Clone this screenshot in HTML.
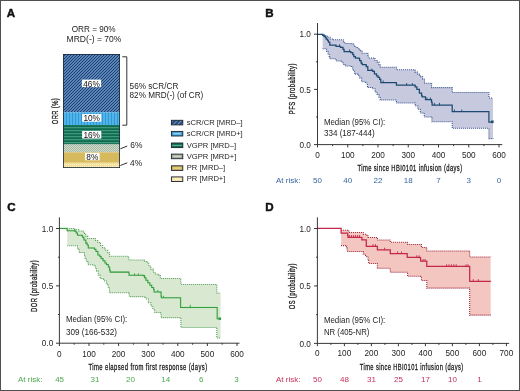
<!DOCTYPE html>
<html><head><meta charset="utf-8">
<style>
html,body{margin:0;padding:0;background:#fff;}
body{width:520px;height:391px;overflow:hidden;position:relative;}
svg{position:absolute;left:0;top:0;display:block;filter:blur(0.45px);}
text{font-family:"Liberation Sans",sans-serif;}
.t{stroke:#1a1a1a;stroke-width:0.3px;letter-spacing:0.6px;}
</style></head>
<body>
<svg width="520" height="391" viewBox="0 0 520 391">
<defs>
  <pattern id="pA" width="3" height="3" patternUnits="userSpaceOnUse">
    <rect width="3" height="3" fill="#5a84b8"/>
    <rect x="2" y="0" width="1" height="1" fill="#1d416e"/>
    <rect x="1" y="1" width="1" height="1" fill="#1d416e"/>
    <rect x="0" y="2" width="1" height="1" fill="#1d416e"/>
  </pattern>
  <pattern id="pAL" width="3" height="3" patternUnits="userSpaceOnUse" patternTransform="rotate(45)">
    <rect width="3" height="3" fill="#1f3f6a"/>
    <rect width="1.2" height="3" fill="#6f9acb"/>
  </pattern>
  <pattern id="pB" width="3" height="3" patternUnits="userSpaceOnUse">
    <rect width="3" height="3" fill="#4fb4ea"/>
    <rect width="1" height="3" fill="#3297d2"/>
  </pattern>
  <pattern id="pC" width="3" height="3" patternUnits="userSpaceOnUse">
    <rect width="3" height="3" fill="#0f6a50"/>
    <rect y="1.2" width="3" height="1" fill="#4aa585"/>
  </pattern>
  <pattern id="pD" width="2" height="2" patternUnits="userSpaceOnUse">
    <rect width="2" height="2" fill="#d3ddcd"/>
    <rect width="1" height="1" fill="#a8b7a4"/>
    <rect x="1" y="1" width="1" height="1" fill="#a8b7a4"/>
  </pattern>
  <pattern id="pF" width="2" height="2" patternUnits="userSpaceOnUse">
    <rect width="2" height="2" fill="#f3de97"/>
    <rect width="1" height="1" fill="#fbf2cf"/>
  </pattern>
</defs>

<!-- outer border -->
<rect x="0.5" y="0.5" width="519" height="390" fill="none" stroke="#505050" stroke-width="1"/>

<!-- ================= PANEL A ================= -->
<text class="n" x="6.8" y="16.7" font-size="11.6" font-weight="bold" fill="#111" stroke="#111" stroke-width="0.45">A</text>
<text x="93.65" y="31.9" font-size="8.4" fill="#1e1e1e" text-anchor="middle" textLength="44" lengthAdjust="spacingAndGlyphs">ORR = 90%</text>
<text x="94" y="41.9" font-size="8.4" fill="#1e1e1e" text-anchor="middle" textLength="54.8" lengthAdjust="spacingAndGlyphs">MRD(-) = 70%</text>

<g>
  <rect x="63" y="54" width="57" height="58.3" fill="url(#pA)"/>
  <rect x="63" y="112.3" width="57" height="12.7" fill="url(#pB)"/>
  <rect x="63" y="125" width="57" height="19.5" fill="url(#pC)"/>
  <rect x="63" y="144.5" width="57" height="7.8" fill="url(#pD)"/>
  <rect x="63" y="152.3" width="57" height="10.5" fill="#d7b95e"/>
  <rect x="63" y="162.8" width="57" height="5.2" fill="url(#pF)"/>
  <rect x="63.4" y="54.4" width="56.2" height="113.2" fill="none" stroke="#1b2a3a" stroke-width="0.8"/>
</g>
<g font-size="8.5" fill="#111" text-anchor="middle">
  <rect x="81.9" y="79.6" width="19.2" height="7.5" fill="#fff"/>
  <text x="91.5" y="86.5" textLength="16.6" lengthAdjust="spacingAndGlyphs">46%</text>
  <rect x="82.1" y="114.1" width="19.2" height="7.6" fill="#fff"/>
  <text x="91.7" y="121" textLength="16.6" lengthAdjust="spacingAndGlyphs">10%</text>
  <rect x="82.1" y="131" width="19.2" height="7.6" fill="#fff"/>
  <text x="91.7" y="137.9" textLength="16.6" lengthAdjust="spacingAndGlyphs">16%</text>
  <rect x="85" y="152.9" width="14.6" height="7.4" fill="#fff"/>
  <text x="92.3" y="159.8" textLength="12" lengthAdjust="spacingAndGlyphs">8%</text>
</g>
<text class="n t" transform="translate(58,111.1) rotate(-90)" font-size="8.9" fill="#222" text-anchor="middle" textLength="26.2" lengthAdjust="spacingAndGlyphs">ORR (%)</text>

<path d="M122.3,56.8 H126.8 V125.2 H122.3" fill="none" stroke="#333" stroke-width="1"/>
<text x="129.6" y="88.9" font-size="8.4" fill="#1e1e1e" textLength="48.7" lengthAdjust="spacingAndGlyphs">56% sCR/CR</text>
<text x="129.6" y="98.1" font-size="8.4" fill="#1e1e1e" textLength="73.7" lengthAdjust="spacingAndGlyphs">82% MRD(-) (of CR)</text>
<path d="M120.3,148.8 L127.3,146" stroke="#333" stroke-width="1"/>
<text x="130.3" y="147.7" font-size="8.4" fill="#1e1e1e">6%</text>
<path d="M120.3,165.5 L127.3,162.8" stroke="#333" stroke-width="1"/>
<text x="130.1" y="165.8" font-size="8.4" fill="#1e1e1e">4%</text>

<!-- legend -->
<g stroke="#1a2430" stroke-width="0.9">
  <rect x="171.4" y="120.3" width="11.4" height="4.6" fill="url(#pAL)"/>
  <rect x="171.4" y="131.4" width="11.4" height="4.6" fill="#3c9bd8"/>
  <rect x="171.4" y="143.0" width="11.4" height="4.6" fill="#0f6a50"/>
  <rect x="171.4" y="154.1" width="11.4" height="4.6" fill="#a3ab98"/>
  <rect x="171.4" y="165.8" width="11.4" height="4.6" fill="#cdb35a"/>
  <rect x="171.4" y="176.9" width="11.4" height="4.6" fill="#f1e1a2"/>
</g>
<g>
  <rect x="173.4" y="132.9" width="7.4" height="1.6" fill="#8fd0f4"/>
  <rect x="172.2" y="144.9" width="9.8" height="0.9" fill="#6cbc9c"/>
  <rect x="173.4" y="155.6" width="7.4" height="1.6" fill="#cfd6c9"/>
  <rect x="173.4" y="167.3" width="7.4" height="1.6" fill="#e6d38a"/>
  <rect x="173.4" y="178.4" width="7.4" height="1.6" fill="#faf1cc"/>
</g>
<g font-size="7.6" fill="#1e1e1e">
  <text x="186.8" y="124.8">sCR/CR [MRD–]</text>
  <text x="186.8" y="135.8">sCR/CR [MRD+]</text>
  <text x="186.8" y="147.5">VGPR [MRD–]</text>
  <text x="186.8" y="158.5">VGPR [MRD+]</text>
  <text x="186.8" y="170.2">PR [MRD–]</text>
  <text x="186.8" y="181.3">PR [MRD+]</text>
</g>

<!--KM-->
<g>
<path d="M322.6,34.3 L323.0,34.3 L323.0,34.9 L325.7,34.9 L325.7,36.3 L327.5,36.3 L327.5,37.2 L330.2,37.2 L330.2,39.0 L333.0,39.0 L333.0,39.8 L342.6,39.8 L342.6,39.9 L343.6,39.9 L343.6,41.8 L344.6,41.8 L344.6,43.4 L351.8,43.4 L351.8,43.8 L353.3,43.8 L353.3,45.3 L355.0,45.3 L355.0,47.2 L357.6,47.2 L357.6,48.7 L359.1,48.7 L359.1,49.7 L360.6,49.7 L360.6,50.7 L362.2,50.7 L362.2,53.3 L367.3,53.3 L367.3,53.3 L367.8,53.3 L367.8,55.3 L368.3,55.3 L368.3,57.9 L373.9,57.9 L373.9,57.9 L375.0,57.9 L375.0,60.5 L377.0,60.5 L377.0,62.0 L379.0,62.0 L379.0,64.6 L380.3,64.6 L380.3,67.2 L396.4,67.2 L396.4,67.2 L396.4,67.2 L396.4,69.8 L414.7,69.8 L414.7,70.0 L415.0,70.0 L415.0,72.1 L417.5,72.1 L417.5,74.1 L420.0,74.1 L420.0,76.6 L422.6,76.6 L422.6,79.2 L424.5,79.2 L424.5,83.2 L431.5,83.2 L431.5,83.6 L431.6,83.6 L431.6,87.6 L452.2,87.6 L452.2,87.8 L452.2,87.8 L452.2,92.5 L488.9,92.5 L488.9,92.5 L488.9,92.5 L488.9,97.9 L493.0,97.9 L493.0,97.9 L493.0,138.7 L493.0,138.6 L488.9,138.6 L488.9,128.3 L488.9,128.3 L488.9,128.2 L452.2,128.2 L452.2,122.1 L452.2,122.1 L452.2,121.7 L431.9,121.7 L431.9,117.5 L431.2,117.5 L431.2,116.9 L424.2,116.9 L424.2,113.0 L420.3,113.0 L420.3,109.2 L417.8,109.2 L417.8,106.0 L415.2,106.0 L415.2,103.0 L414.3,103.0 L414.3,102.9 L396.4,102.9 L396.4,100.5 L395.8,100.5 L395.8,100.0 L380.2,100.0 L380.2,97.1 L378.9,97.1 L378.9,94.5 L377.0,94.5 L377.0,92.0 L375.0,92.0 L375.0,88.8 L372.5,88.8 L372.5,87.5 L367.4,87.5 L367.4,83.0 L365.5,83.0 L365.5,81.7 L361.6,81.7 L361.6,77.9 L359.7,77.9 L359.7,75.3 L357.8,75.3 L357.8,74.1 L354.6,74.1 L354.6,70.2 L352.7,70.2 L352.7,66.4 L351.4,66.4 L351.4,65.9 L345.1,65.9 L345.1,64.8 L343.6,64.8 L343.6,62.7 L342.0,62.7 L342.0,61.2 L341.0,61.2 L341.0,60.9 L336.0,60.9 L336.0,58.9 L335.6,58.9 L335.6,58.8 L329.8,58.8 L329.8,56.4 L329.3,56.4 L329.3,53.7 L328.0,53.7 L328.0,51.5 L326.6,51.5 L326.6,48.8 L326.6,48.8 L326.6,48.7 L322.6,48.7 L322.6,34.3 L322.6,34.3 Z" fill="#c7c9df"/>
<path d="M322.6,34.3 H323.0 V34.9 H325.7 V36.3 H327.5 V37.2 H330.2 V39.0 H333.0 V39.8 H342.6 V39.9 H343.6 V41.8 H344.6 V43.4 H351.8 V43.8 H353.3 V45.3 H355.0 V47.2 H357.6 V48.7 H359.1 V49.7 H360.6 V50.7 H362.2 V53.3 H367.3 H367.8 V55.3 H368.3 V57.9 H373.9 H375.0 V60.5 H377.0 V62.0 H379.0 V64.6 H380.3 V67.2 H396.4 V69.8 H414.7 V70.0 H415.0 V72.1 H417.5 V74.1 H420.0 V76.6 H422.6 V79.2 H424.5 V83.2 H431.5 V83.6 H431.6 V87.6 H452.2 V87.8 V92.5 H488.9 V97.9 H493.0" fill="none" stroke="#34508a" stroke-width="1.05" stroke-dasharray="1 1"/>
<path d="M322.6,48.7 H326.6 V48.8 V51.5 H328.0 V53.7 H329.3 V56.4 H329.8 V58.8 H335.6 V58.9 H336.0 V60.9 H341.0 V61.2 H342.0 V62.7 H343.6 V64.8 H345.1 V65.9 H351.4 V66.4 H352.7 V70.2 H354.6 V74.1 H357.8 V75.3 H359.7 V77.9 H361.6 V81.7 H365.5 V83.0 H367.4 V87.5 H372.5 V88.8 H375.0 V92.0 H377.0 V94.5 H378.9 V97.1 H380.2 V100.0 H395.8 V100.5 H396.4 V102.9 H414.3 V103.0 H415.2 V106.0 H417.8 V109.2 H420.3 V113.0 H424.2 V116.9 H431.2 V117.5 H431.9 V121.7 H452.2 V122.1 V128.2 H488.9 V128.3 V138.6 H493.0 V138.7" fill="none" stroke="#34508a" stroke-width="1.05" stroke-dasharray="1 1"/>
<path d="M317.5,34.3 H322.1 H322.6 V35.4 H324.0 V36.4 H325.3 V37.6 H326.2 V39.0 H327.5 V40.3 H328.4 V42.1 H329.8 V45.0 H335.9 V45.1 H336.0 V46.3 H340.0 V46.6 H340.5 V47.4 H343.0 V49.4 H344.1 V51.5 H350.2 V51.7 H350.8 V52.5 H352.8 V54.6 H353.8 V56.6 H355.4 V58.2 H359.1 V58.4 H359.6 V60.5 H361.1 V63.0 H362.2 V64.6 H365.6 V64.8 H366.3 V66.6 H367.8 V70.4 H372.3 V70.7 H372.9 V71.4 H374.4 V73.8 H376.5 V75.8 H378.0 V77.3 H379.6 V79.4 H380.8 V82.7 H396.4 V82.8 V85.2 H414.9 V85.3 H415.2 V86.9 H416.9 V89.4 H419.4 V93.2 H421.6 V95.8 H422.3 V96.8 H425.3 V96.9 H425.5 V99.5 H430.8 V99.6 H431.5 V102.0 H432.1 V105.0 H452.2 V105.1 V111.5 H488.9 V111.7 V122.0 H493.0" fill="none" stroke="#1e4a72" stroke-width="1.25"/>
<path d="M339.5,46.5 V44.3 M349.5,51.7 V49.5 M371.9,70.7 V68.5 M383.2,82.7 V80.5 M406.6,85.3 V83.1 M412.4,85.3 V83.1 M427.0,99.6 V97.4 M430.3,99.6 V97.4 M434.4,105.1 V102.9 M439.5,105.1 V102.9 M454.4,111.7 V109.5 M461.8,111.7 V109.5" fill="none" stroke="#1e4a72" stroke-width="0.9"/>
<rect x="491" y="120.5" width="2.6" height="2.6" fill="#1e4a72"/>
</g>
<g>
<path d="M67.2,228.4 L74.9,228.4 L74.9,229.7 L78.7,229.7 L78.7,231.0 L83.2,231.0 L83.2,232.2 L84.5,232.2 L84.5,234.1 L85.8,234.1 L85.8,236.1 L87.7,236.1 L87.7,238.4 L95.4,238.4 L95.4,238.6 L95.4,238.6 L95.4,240.5 L97.9,240.5 L97.9,242.5 L100.5,242.5 L100.5,245.5 L102.6,245.5 L102.6,247.7 L105.1,247.7 L105.1,250.2 L107.7,250.2 L107.7,252.8 L109.6,252.8 L109.6,256.3 L128.8,256.3 L128.8,256.6 L128.8,256.6 L128.8,260.0 L144.1,260.0 L144.1,260.2 L144.8,260.2 L144.8,261.5 L146.9,261.5 L146.9,262.7 L148.8,262.7 L148.8,265.9 L150.8,265.9 L150.8,269.1 L153.3,269.1 L153.3,272.3 L155.2,272.3 L155.2,274.2 L159.0,274.2 L159.0,275.5 L160.3,275.5 L160.3,278.4 L180.8,278.4 L180.8,278.7 L180.8,278.7 L180.8,284.4 L216.8,284.4 L216.8,284.4 L216.8,284.4 L216.8,293.0 L220.6,293.0 L220.6,293.0 L220.6,338.0 L220.6,338.0 L216.8,338.0 L216.8,327.5 L216.8,327.5 L216.8,327.4 L180.9,327.4 L180.9,317.9 L180.3,317.9 L180.3,317.6 L161.1,317.6 L161.1,312.8 L160.5,312.8 L160.5,312.5 L154.7,312.5 L154.7,309.2 L152.8,309.2 L152.8,306.0 L150.9,306.0 L150.9,302.8 L148.3,302.8 L148.3,299.0 L145.8,299.0 L145.8,296.9 L144.0,296.9 L144.0,296.6 L129.3,296.6 L129.3,293.0 L128.7,293.0 L128.7,292.7 L109.5,292.7 L109.5,287.9 L108.2,287.9 L108.2,284.1 L106.4,284.1 L106.4,280.9 L103.8,280.9 L103.8,278.4 L100.0,278.4 L100.0,275.0 L98.2,275.0 L98.2,271.2 L96.6,271.2 L96.6,268.0 L95.4,268.0 L95.4,265.5 L94.1,265.5 L94.1,264.8 L88.3,264.8 L88.3,261.6 L86.4,261.6 L86.4,258.4 L85.1,258.4 L85.1,255.2 L84.5,255.2 L84.5,252.7 L83.9,252.7 L83.9,252.4 L79.4,252.4 L79.4,248.9 L77.5,248.9 L77.5,245.7 L77.5,245.7 L77.5,245.7 L67.2,245.7 L67.2,228.4 L67.2,228.4 Z" fill="#d9e9d1"/>
<path d="M67.2,228.4 H74.9 V229.7 H78.7 V231.0 H83.2 V232.2 H84.5 V234.1 H85.8 V236.1 H87.7 V238.4 H95.4 V238.6 V240.5 H97.9 V242.5 H100.5 V245.5 H102.6 V247.7 H105.1 V250.2 H107.7 V252.8 H109.6 V256.3 H128.8 V256.6 V260.0 H144.1 V260.2 H144.8 V261.5 H146.9 V262.7 H148.8 V265.9 H150.8 V269.1 H153.3 V272.3 H155.2 V274.2 H159.0 V275.5 H160.3 V278.4 H180.8 V278.7 V284.4 H216.8 V293.0 H220.6" fill="none" stroke="#4f9a55" stroke-width="1.05" stroke-dasharray="1 1"/>
<path d="M67.2,245.7 H77.5 V248.9 H79.4 V252.4 H83.9 V252.7 H84.5 V255.2 H85.1 V258.4 H86.4 V261.6 H88.3 V264.8 H94.1 V265.5 H95.4 V268.0 H96.6 V271.2 H98.2 V275.0 H100.0 V278.4 H103.8 V280.9 H106.4 V284.1 H108.2 V287.9 H109.5 V292.7 H128.7 V293.0 H129.3 V296.6 H144.0 V296.9 H145.8 V299.0 H148.3 V302.8 H150.9 V306.0 H152.8 V309.2 H154.7 V312.5 H160.5 V312.8 H161.1 V317.6 H180.3 V317.9 H180.9 V327.4 H216.8 V327.5 V338.0 H220.6" fill="none" stroke="#4f9a55" stroke-width="1.05" stroke-dasharray="1 1"/>
<path d="M59.4,228.4 H66.8 H67.2 V230.8 H74.6 V231.2 H76.2 V232.9 H77.5 V235.3 H82.0 V235.8 H82.6 V237.3 H83.9 V239.9 H85.8 V243.1 H87.1 V245.0 H88.3 V247.9 H94.1 V248.2 H94.7 V249.5 H96.0 V251.4 H97.9 V255.0 H99.8 V256.5 H101.1 V258.4 H103.0 V260.8 H105.0 V263.0 H106.4 V264.5 H108.3 V266.9 H109.6 V270.1 H110.2 V272.1 H128.5 V272.2 H129.0 V275.3 H143.2 V275.6 H144.6 V277.7 H145.9 V280.2 H147.8 V282.8 H149.8 V285.3 H151.7 V287.5 H153.6 V289.5 H154.1 V291.9 H160.3 V292.1 H161.1 V296.4 H161.4 V297.8 H180.3 V298.0 H180.6 V307.4 H217.2 V307.5 V318.7 H220.6" fill="none" stroke="#b8e6b8" stroke-width="1.6"/>
<path d="M59.4,228.4 H66.8 H67.2 V230.8 H74.6 V231.2 H76.2 V232.9 H77.5 V235.3 H82.0 V235.8 H82.6 V237.3 H83.9 V239.9 H85.8 V243.1 H87.1 V245.0 H88.3 V247.9 H94.1 V248.2 H94.7 V249.5 H96.0 V251.4 H97.9 V255.0 H99.8 V256.5 H101.1 V258.4 H103.0 V260.8 H105.0 V263.0 H106.4 V264.5 H108.3 V266.9 H109.6 V270.1 H110.2 V272.1 H128.5 V272.2 H129.0 V275.3 H143.2 V275.6 H144.6 V277.7 H145.9 V280.2 H147.8 V282.8 H149.8 V285.3 H151.7 V287.5 H153.6 V289.5 H154.1 V291.9 H160.3 V292.1 H161.1 V296.4 H161.4 V297.8 H180.3 V298.0 H180.6 V307.4 H217.2 V307.5 V318.7 H220.6" fill="none" stroke="#389c40" stroke-width="1.05"/>
<path d="M74.9,231.2 V229.0 M134.5,275.5 V273.3 M138.4,275.5 V273.3 M157.8,292.1 V289.9 M163.5,298.0 V295.8 M190.3,307.0 V304.8" fill="none" stroke="#3f9f4a" stroke-width="0.9"/>
<rect x="218.5" y="317.4" width="2.6" height="2.6" fill="#3f9f4a"/>
</g>
<g>
<path d="M341.1,230.2 L347.2,230.2 L347.2,230.2 L348.8,230.2 L348.8,232.4 L362.6,232.4 L362.6,232.4 L363.3,232.4 L363.3,234.3 L366.4,234.3 L366.4,235.0 L368.0,235.0 L368.0,237.4 L376.9,237.4 L376.9,237.5 L377.4,237.5 L377.4,239.9 L390.0,239.9 L390.0,240.0 L390.3,240.0 L390.3,242.2 L407.1,242.2 L407.1,242.3 L407.6,242.3 L407.6,244.5 L420.6,244.5 L420.6,244.6 L421.4,244.6 L421.4,247.5 L426.1,247.5 L426.1,247.8 L426.8,247.8 L426.8,250.9 L469.4,250.9 L469.4,251.1 L469.7,251.1 L469.7,256.9 L490.6,256.9 L490.6,257.1 L490.7,315.2 L490.7,315.1 L469.7,315.1 L469.7,288.2 L469.4,288.2 L469.4,288.1 L426.8,288.1 L426.8,280.5 L426.1,280.5 L426.1,280.4 L421.4,280.4 L421.4,276.4 L420.6,276.4 L420.6,276.3 L407.6,276.3 L407.6,272.3 L407.1,272.3 L407.1,272.2 L390.3,272.2 L390.3,268.3 L390.0,268.3 L390.0,268.2 L377.4,268.2 L377.4,263.5 L376.9,263.5 L376.9,263.5 L368.7,263.5 L368.7,260.4 L368.0,260.4 L368.0,256.5 L365.6,256.5 L365.6,254.2 L363.3,254.2 L363.3,251.5 L362.6,251.5 L362.6,251.4 L347.2,251.4 L347.2,248.1 L346.5,248.1 L346.5,245.8 L345.7,245.8 L345.7,245.6 L341.1,245.6 L341.1,228.4 L341.1,228.4 Z" fill="#f3c7c0"/>
<path d="M341.1,230.2 H347.2 H348.8 V232.4 H362.6 H363.3 V234.3 H366.4 V235.0 H368.0 V237.4 H376.9 V237.5 H377.4 V239.9 H390.0 V240.0 H390.3 V242.2 H407.1 V242.3 H407.6 V244.5 H420.6 V244.6 H421.4 V247.5 H426.1 V247.8 H426.8 V250.9 H469.4 V251.1 H469.7 V256.9 H490.6 V257.1" fill="none" stroke="#9a1f38" stroke-width="1.05" stroke-dasharray="1 1"/>
<path d="M341.1,245.6 H345.7 V245.8 H346.5 V248.1 H347.2 V251.4 H362.6 V251.5 H363.3 V254.2 H365.6 V256.5 H368.0 V260.4 H368.7 V263.5 H376.9 H377.4 V268.2 H390.0 V268.3 H390.3 V272.2 H407.1 V272.3 H407.6 V276.3 H420.6 V276.4 H421.4 V280.4 H426.1 V280.5 H426.8 V288.1 H469.4 V288.2 H469.7 V315.1 H490.7 V315.2" fill="none" stroke="#9a1f38" stroke-width="1.05" stroke-dasharray="1 1"/>
<path d="M317.4,228.4 H340.7 H341.1 V233.0 H346.5 H347.6 V235.0 H348.0 V237.3 H361.5 H361.9 V239.8 H366.3 V239.9 V246.3 H376.9 H377.4 V249.8 H390.0 V249.9 H390.3 V253.6 H407.0 V253.7 H407.2 V257.4 H420.0 V257.5 H420.6 V261.1 H426.1 V261.2 H426.8 V266.4 H469.4 V266.5 H469.7 V281.3 H490.6 V281.4" fill="none" stroke="#c3274a" stroke-width="1.25"/>
<path d="M349.5,237.3 V235.1 M351.5,237.3 V235.1 M353.5,237.3 V235.1 M355.5,237.3 V235.1 M357.5,237.3 V235.1 M359.5,237.3 V235.1 M373.0,246.3 V244.1 M375.4,246.3 V244.1 M384.6,249.9 V247.7 M397.6,253.7 V251.5 M401.5,253.7 V251.5 M416.8,257.5 V255.3 M419.1,257.5 V255.3 M423.0,261.2 V259.0 M425.0,261.2 V259.0 M446.6,266.5 V264.3 M449.0,266.5 V264.3 M451.4,266.5 V264.3 M453.8,266.5 V264.3 M456.2,266.5 V264.3 M466.0,266.5 V264.3 M468.0,266.5 V264.3 M473.2,281.4 V279.2 M478.3,281.4 V279.2" fill="none" stroke="#c3274a" stroke-width="0.9"/>
</g>
<!--/KM-->
<!-- ================= PANEL B ================= -->
<text class="n" x="265.3" y="16.7" font-size="11.6" font-weight="bold" fill="#111" stroke="#111" stroke-width="0.45">B</text>
<g id="axB" stroke="#222" stroke-width="0.9" fill="none">
  <path d="M317.5,23 V144.6 H502.3"/>
  <path d="M314,34.2 H317.5 M314,89.4 H317.5 M314,144.6 H317.5 M316,61.8 H317.5 M316,117 H317.5"/>
  <path d="M317.5,144.6 V147.4 M347.75,144.6 V147.4 M378,144.6 V147.4 M408.25,144.6 V147.4 M438.5,144.6 V147.4 M468.75,144.6 V147.4 M499,144.6 V147.4"/>
  <path d="M332.6,144.6 V146.1 M362.9,144.6 V146.1 M393.1,144.6 V146.1 M423.4,144.6 V146.1 M453.6,144.6 V146.1 M483.9,144.6 V146.1"/>
</g>
<g font-size="8.2" fill="#1e1e1e" text-anchor="end">
  <text x="310.8" y="37.3">1.0</text>
  <text x="310.8" y="92.5">0.5</text>
  <text x="310.8" y="147.7">0.0</text>
</g>
<g font-size="8.2" fill="#1e1e1e" text-anchor="middle">
  <text x="317.5" y="157.9">0</text>
  <text x="347.75" y="157.9">100</text>
  <text x="378" y="157.9">200</text>
  <text x="408.25" y="157.9">300</text>
  <text x="438.5" y="157.9">400</text>
  <text x="468.75" y="157.9">500</text>
  <text x="499" y="157.9">600</text>
</g>
<text x="357.5" y="171" class="t" font-size="8.9" fill="#222" textLength="105" lengthAdjust="spacingAndGlyphs">Time since HBI0101 infusion (days)</text>
<text class="n t" transform="translate(294.6,88.65) rotate(-90)" font-size="8.9" fill="#222" text-anchor="middle" textLength="51" lengthAdjust="spacingAndGlyphs">PFS (probability)</text>
<text x="323.9" y="124.5" font-size="8.3" fill="#1e1e1e" textLength="61.4" lengthAdjust="spacingAndGlyphs">Median (95% CI):</text>
<text x="323.9" y="136.1" font-size="8.3" fill="#1e1e1e" textLength="50.8" lengthAdjust="spacingAndGlyphs">334 (187-444)</text>
<g font-size="8" fill="#3666a0">
  <text x="276" y="183">At risk:</text>
  <g text-anchor="middle">
  <text x="317.5" y="183">50</text>
  <text x="347.75" y="183">40</text>
  <text x="378" y="183">22</text>
  <text x="408.25" y="183">18</text>
  <text x="438.5" y="183">7</text>
  <text x="468.75" y="183">3</text>
  <text x="499" y="183">0</text>
  </g>
</g>

<!-- ================= PANEL C ================= -->
<text class="n" x="7.2" y="211.2" font-size="11.6" font-weight="bold" fill="#111" stroke="#111" stroke-width="0.45">C</text>
<g stroke="#222" stroke-width="0.9" fill="none">
  <path d="M59.4,217.3 V343.2 H239.5"/>
  <path d="M56,228.5 H59.4 M56,285.85 H59.4 M56,343.2 H59.4 M58,257.2 H59.4 M58,314.5 H59.4"/>
  <path d="M59.4,343.2 V346.0 M89,343.2 V346.0 M118.6,343.2 V346.0 M148.2,343.2 V346.0 M177.8,343.2 V346.0 M207.4,343.2 V346.0 M237,343.2 V346.0"/>
  <path d="M74.2,343.2 V344.7 M103.8,343.2 V344.7 M133.4,343.2 V344.7 M163,343.2 V344.7 M192.6,343.2 V344.7 M222.2,343.2 V344.7"/>
</g>
<g font-size="8.2" fill="#1e1e1e" text-anchor="end">
  <text x="53.2" y="231.6">1.0</text>
  <text x="53.2" y="288.9">0.5</text>
  <text x="53.2" y="346.3">0.0</text>
</g>
<g font-size="8.2" fill="#1e1e1e" text-anchor="middle">
  <text x="59.4" y="356.8">0</text>
  <text x="89" y="356.8">100</text>
  <text x="118.6" y="356.8">200</text>
  <text x="148.2" y="356.8">300</text>
  <text x="177.8" y="356.8">400</text>
  <text x="207.4" y="356.8">500</text>
  <text x="237" y="356.8">600</text>
</g>
<text x="88.5" y="369.6" class="t" font-size="8.9" fill="#222" textLength="119" lengthAdjust="spacingAndGlyphs">Time elapsed from first response (days)</text>
<text class="n t" transform="translate(36.9,285.95) rotate(-90)" font-size="8.9" fill="#222" text-anchor="middle" textLength="51.9" lengthAdjust="spacingAndGlyphs">DOR (probability)</text>
<text x="65.9" y="322.2" font-size="8.3" fill="#1e1e1e" textLength="61.4" lengthAdjust="spacingAndGlyphs">Median (95% CI):</text>
<text x="65.9" y="334.9" font-size="8.3" fill="#1e1e1e" textLength="51.2" lengthAdjust="spacingAndGlyphs">309 (166-532)</text>
<g font-size="8" fill="#4aa84e">
  <text x="18" y="382">At risk:</text>
  <g text-anchor="middle">
  <text x="59.6" y="382">45</text>
  <text x="95" y="382">31</text>
  <text x="130.4" y="382">20</text>
  <text x="165.8" y="382">14</text>
  <text x="201.2" y="382">6</text>
  <text x="236.6" y="382">3</text>
  </g>
</g>

<!-- ================= PANEL D ================= -->
<text class="n" x="265.3" y="210.8" font-size="11.6" font-weight="bold" fill="#111" stroke="#111" stroke-width="0.45">D</text>
<g stroke="#222" stroke-width="0.9" fill="none">
  <path d="M317.4,217.3 V343.4 H509.1"/>
  <path d="M314,228.5 H317.4 M314,285.95 H317.4 M314,343.4 H317.4 M316,257.2 H317.4 M316,314.7 H317.4"/>
  <path d="M317.4,343.4 V346.2 M344.4,343.4 V346.2 M371.4,343.4 V346.2 M398.4,343.4 V346.2 M425.4,343.4 V346.2 M452.4,343.4 V346.2 M479.4,343.4 V346.2 M506.4,343.4 V346.2"/>
  <path d="M330.9,343.4 V344.9 M357.9,343.4 V344.9 M384.9,343.4 V344.9 M411.9,343.4 V344.9 M438.9,343.4 V344.9 M465.9,343.4 V344.9 M492.9,343.4 V344.9"/>
</g>
<g font-size="8.2" fill="#1e1e1e" text-anchor="end">
  <text x="310.8" y="231.6">1.0</text>
  <text x="310.8" y="289.0">0.5</text>
  <text x="310.8" y="346.5">0.0</text>
</g>
<g font-size="8.2" fill="#1e1e1e" text-anchor="middle">
  <text x="317.4" y="356.4">0</text>
  <text x="344.4" y="356.4">100</text>
  <text x="371.4" y="356.4">200</text>
  <text x="398.4" y="356.4">300</text>
  <text x="425.4" y="356.4">400</text>
  <text x="452.4" y="356.4">500</text>
  <text x="479.4" y="356.4">600</text>
  <text x="506.4" y="356.4">700</text>
</g>
<text x="359.8" y="369.6" class="t" font-size="8.9" fill="#222" textLength="103.7" lengthAdjust="spacingAndGlyphs">Time since HBI0101 infusion (days)</text>
<text class="n t" transform="translate(294.6,286.15) rotate(-90)" font-size="8.9" fill="#222" text-anchor="middle" textLength="46.1" lengthAdjust="spacingAndGlyphs">OS (probability)</text>
<text x="323.9" y="322.6" font-size="8.3" fill="#1e1e1e" textLength="61.4" lengthAdjust="spacingAndGlyphs">Median (95% CI):</text>
<text x="323.9" y="335.3" font-size="8.3" fill="#1e1e1e" textLength="45.5" lengthAdjust="spacingAndGlyphs">NR (405-NR)</text>
<g font-size="8" fill="#c4305a">
  <text x="276" y="382">At risk:</text>
  <g text-anchor="middle">
  <text x="317.4" y="382">50</text>
  <text x="344.4" y="382">48</text>
  <text x="371.4" y="382">31</text>
  <text x="398.4" y="382">25</text>
  <text x="425.4" y="382">17</text>
  <text x="452.4" y="382">10</text>
  <text x="479.4" y="382">1</text>
  </g>
</g>

</svg>
</body></html>
